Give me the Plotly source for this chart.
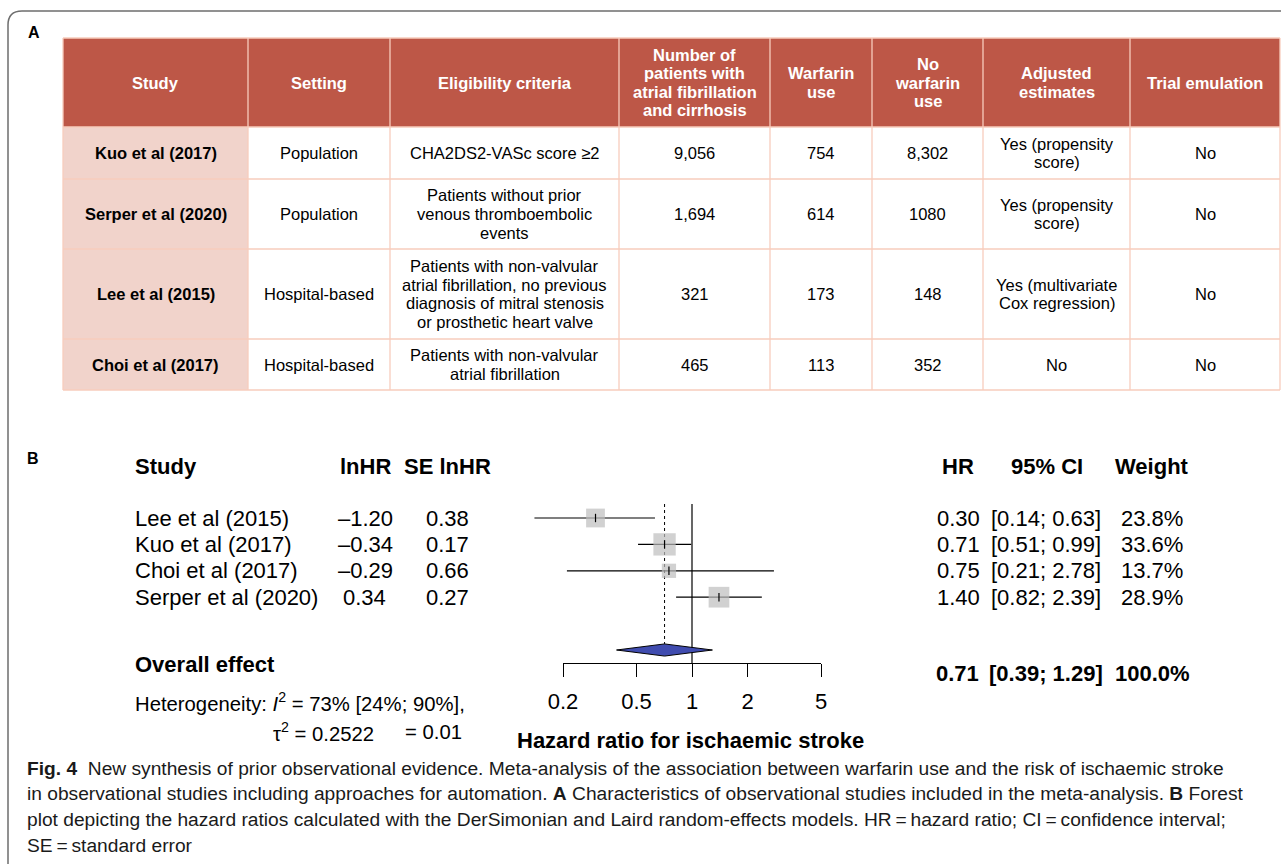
import math
import plotly.graph_objects as go

W, H = 1281, 864

# ---------------- Panel A data ----------------
tab_headers = ["Study", "Setting", "Eligibility criteria",
               "Number of\npatients with\natrial fibrillation\nand cirrhosis",
               "Warfarin\nuse", "No\nwarfarin\nuse", "Adjusted\nestimates", "Trial emulation"]
tab_study = ["Kuo et al (2017)", "Serper et al (2020)", "Lee et al (2015)", "Choi et al (2017)"]
tab_setting = ["Population", "Population", "Hospital-based", "Hospital-based"]
tab_eligibility = ["CHA2DS2-VASc score ≥2",
                   "Patients without prior\nvenous thromboembolic\nevents",
                   "Patients with non-valvular\natrial fibrillation, no previous\ndiagnosis of mitral stenosis\nor prosthetic heart valve",
                   "Patients with non-valvular\natrial fibrillation"]
tab_n_patients = ["9,056", "1,694", "321", "465"]
tab_warfarin = ["754", "614", "173", "113"]
tab_no_warfarin = ["8,302", "1080", "148", "352"]
tab_adjusted = ["Yes (propensity\nscore)", "Yes (propensity\nscore)",
                "Yes (multivariate\nCox regression)", "No"]
tab_trial = ["No", "No", "No", "No"]

# ---------------- Panel B data ----------------
fp_studies = ["Lee et al (2015)", "Kuo et al (2017)", "Choi et al (2017)", "Serper et al (2020)"]
ln_hr = [-1.20, -0.34, -0.29, 0.34]
se_ln_hr = [0.38, 0.17, 0.66, 0.27]
hr = [0.30, 0.71, 0.75, 1.40]
ci_lo = [0.14, 0.51, 0.21, 0.82]
ci_hi = [0.63, 0.99, 2.78, 2.39]
weight = [23.8, 33.6, 13.7, 28.9]
overall_hr, overall_lo, overall_hi = 0.71, 0.39, 1.29
overall_weight = 100.0
axis_ticks = [0.2, 0.5, 1, 2, 5]
axis_ticktext = ["0.2", "0.5", "1", "2", "5"]

# ---------------- styling ----------------
FONT = "Liberation Sans, Arial, Helvetica, sans-serif"
RED = "#BD5747"
PINK = "#F1D3CB"
GRID = "#F7CDBD"


def px(x):
    return x / W


def py(y):
    return 1 - y / H


annotations = []
shapes = []


def ann(text, x, y, size, bold=False, xanchor="center", color="black", family=FONT):
    if bold:
        text = "<b>" + text + "</b>"
    annotations.append(dict(text=text, x=px(x), y=py(y), xref="paper", yref="paper",
                            xanchor=xanchor, yanchor="middle", showarrow=False,
                            font=dict(size=size, color=color, family=family)))


def cell_text(text, cx, cy, size, bold=False, color="black", ls=18.6):
    lines = text.split("\n")
    n = len(lines)
    for k, line in enumerate(lines):
        ann(line, cx, cy + (k - (n - 1) / 2) * ls, size, bold=bold, color=color)


def rect(x0, y0, x1, y1, fill):
    shapes.append(dict(type="rect", xref="paper", yref="paper", x0=px(x0), x1=px(x1),
                       y0=py(y1), y1=py(y0), fillcolor=fill, line=dict(width=0), layer="below"))


def line(x0, y0, x1, y1, color, width):
    shapes.append(dict(type="line", xref="paper", yref="paper", x0=px(x0), x1=px(x1),
                       y0=py(y0), y1=py(y1), line=dict(color=color, width=width)))


# outer frame
shapes.append(dict(type="path", xref="paper", yref="paper",
                   path=f"M {px(1300)},{py(11)} L {px(22)},{py(11)} Q {px(8)},{py(11)} {px(8)},{py(25)} L {px(8)},{py(880)}",
                   line=dict(color="#6E6E6E", width=1.5)))

# ---------------- Table (panel A) ----------------
col_edges = [63, 248, 390, 619, 770, 872, 983, 1130, 1280]
row_edges = [38, 127, 179, 249, 339, 390]

rect(col_edges[0], row_edges[0], col_edges[-1], row_edges[1], RED)
rect(col_edges[0], row_edges[1], col_edges[1], row_edges[-1], PINK)
for xe in col_edges:
    line(xe, row_edges[0], xe, row_edges[-1], GRID, 1.3)
for ye in row_edges:
    line(col_edges[0], ye, col_edges[-1], ye, GRID, 1.3)

for j, h in enumerate(tab_headers):
    cx = (col_edges[j] + col_edges[j + 1]) / 2
    cy = (row_edges[0] + row_edges[1]) / 2
    cell_text(h, cx, cy, 16.5, bold=True, color="white")

columns = [tab_study, tab_setting, tab_eligibility, tab_n_patients, tab_warfarin,
           tab_no_warfarin, tab_adjusted, tab_trial]
for j, col in enumerate(columns):
    cx = (col_edges[j] + col_edges[j + 1]) / 2
    for i, val in enumerate(col):
        cy = (row_edges[i + 1] + row_edges[i + 2]) / 2
        cell_text(val, cx, cy, 16.5, bold=(j == 0))

ann("A", 26, 33, 16, bold=True, xanchor="left")
ann("B", 25, 458, 16, bold=True, xanchor="left")

# ---------------- Forest plot (panel B) ----------------
Y0, DY = 518, 26.4          # pixel of first study row, row spacing
FS = 22
FS_HET = 20.3

ann("Study", 133, 466, FS, bold=True, xanchor="left")
ann("lnHR", 365, 466, FS, bold=True)
ann("SE lnHR", 447, 466, FS, bold=True)
ann("HR", 958, 466, FS, bold=True)
ann("95% CI", 1047, 466, FS, bold=True)
ann("Weight", 1152, 466, FS, bold=True)

for i, s in enumerate(fp_studies):
    yy = Y0 + DY * i
    ann(s, 133, yy, FS, xanchor="left")
    v = ln_hr[i]
    ann(("\u2013" if v < 0 else "") + f"{abs(v):.2f}", 365 - (0 if v < 0 else 0.5), yy, FS)
    ann(f"{se_ln_hr[i]:.2f}", 447, yy, FS)
    ann(f"{hr[i]:.2f}", 958, yy, FS)
    ann(f"[{ci_lo[i]:.2f}; {ci_hi[i]:.2f}]", 1046, yy, FS)
    ann(f"{weight[i]:.1f}%", 1152, yy, FS)

ann("Overall effect", 133, 664, FS, bold=True, xanchor="left")
ann(f"{overall_hr:.2f}", 957, 673, FS, bold=True)
ann(f"[{overall_lo:.2f}; {overall_hi:.2f}]", 1046, 673, FS, bold=True)
ann(f"{overall_weight:.1f}%", 1152, 673, FS, bold=True)
ann("Heterogeneity: <i>I</i><sup>2</sup> = 73% [24%; 90%],", 133, 702, FS_HET, xanchor="left")
ann("\u03c4<sup>2</sup> = 0.2522", 271, 732, FS_HET, xanchor="left")
ann("= 0.01", 403, 732, FS_HET, xanchor="left")
ann("<b>Hazard ratio for ischaemic stroke</b>", 690, 740, FS)

# axes geometry (pixel -> data calibration)
PPD = 184.5                       # pixels per decade
X_TICK_LO_PX, X_TICK_HI_PX = 563, 821
XD0, XD1 = 500, 880
x_range = [math.log10(axis_ticks[0]) - (X_TICK_LO_PX - XD0) / PPD,
           math.log10(axis_ticks[-1]) + (XD1 - X_TICK_HI_PX) / PPD]
YD0, YD1 = 470, 700
y_range = [(YD1 - Y0) / DY, (YD0 - Y0) / DY]

rows = list(range(len(fp_studies)))
overall_row = len(fp_studies) + 1
axis_row = overall_row + 0.5
top_row = -0.53

traces = []
# CI lines
cx_, cy_ = [], []
for i in rows:
    cx_ += [ci_lo[i], ci_hi[i], None]
    cy_ += [i, i, None]
traces.append(go.Scatter(x=cx_, y=cy_, mode="lines", line=dict(color="black", width=1.2),
                         hoverinfo="skip"))
# reference line at 1
traces.append(go.Scatter(x=[1, 1], y=[top_row, axis_row], mode="lines",
                         line=dict(color="black", width=1.2), hoverinfo="skip"))
# dotted overall line
traces.append(go.Scatter(x=[overall_hr, overall_hr], y=[top_row, overall_row - 0.23], mode="lines",
                         line=dict(color="black", width=1, dash="dot"), hoverinfo="skip"))
# squares
traces.append(go.Scatter(x=hr, y=rows, mode="markers",
                         marker=dict(symbol="square", color="#BDBDBD",
                                     size=[3.85 * math.sqrt(w) for w in weight],
                                     line=dict(width=0)), hoverinfo="skip"))
# point estimate ticks
traces.append(go.Scatter(x=hr, y=rows, mode="markers",
                         marker=dict(symbol="line-ns", size=6, line=dict(color="black", width=1.2)),
                         hoverinfo="skip"))
# diamond
traces.append(go.Scatter(x=[overall_lo, overall_hr, overall_hi, overall_hr, overall_lo],
                         y=[overall_row, overall_row - 0.23, overall_row, overall_row + 0.23, overall_row],
                         mode="lines", fill="toself", fillcolor="#404CAF",
                         line=dict(color="black", width=1), hoverinfo="skip"))
# anchor trace for the visible axis
traces.append(go.Scatter(x=[1], y=[axis_row], xaxis="x2", yaxis="y", mode="markers",
                         marker=dict(opacity=0), hoverinfo="skip"))

fig = go.Figure(traces)

# caption
caption = [
    "<b>Fig. 4</b>  New synthesis of prior observational evidence. Meta-analysis of the association between warfarin use and the risk of ischaemic stroke",
    "in observational studies including approaches for automation. <b>A</b> Characteristics of observational studies included in the meta-analysis. <b>B</b> Forest",
    "plot depicting the hazard ratios calculated with the DerSimonian and Laird random-effects models. HR\u2009=\u2009hazard ratio; CI\u2009=\u2009confidence interval;",
    "SE\u2009=\u2009standard error",
]
for k, c in enumerate(caption):
    ann(c, 25, 768 + 25.8 * k, 19.2, xanchor="left", color="#1A1A1A")

fig.update_layout(
    width=W, height=H, margin=dict(l=0, r=0, t=0, b=0, autoexpand=False),
    paper_bgcolor="white", plot_bgcolor="rgba(0,0,0,0)", showlegend=False,
    xaxis=dict(type="log", domain=[px(XD0), px(XD1)], range=x_range, visible=False,
               fixedrange=True),
    yaxis=dict(domain=[py(YD1), py(YD0)], range=y_range, visible=False, fixedrange=True),
    xaxis2=dict(type="log", domain=[px(X_TICK_LO_PX), px(X_TICK_HI_PX)],
                range=[math.log10(axis_ticks[0]), math.log10(axis_ticks[-1])],
                anchor="free", position=py(Y0 + DY * axis_row), side="bottom",
                showline=True, linecolor="black", linewidth=1.4, showgrid=False, zeroline=False,
                ticks="outside", ticklen=13, tickwidth=1.4, tickcolor="black",
                tickvals=axis_ticks, ticktext=axis_ticktext, ticklabelstandoff=5,
                tickfont=dict(size=FS, family=FONT, color="black"), fixedrange=True),
    shapes=shapes, annotations=annotations,
)

fig.write_html("out.html", config={"responsive": False, "displayModeBar": False},
               post_script="document.body.style.margin='0';document.body.style.overflow='hidden';")
